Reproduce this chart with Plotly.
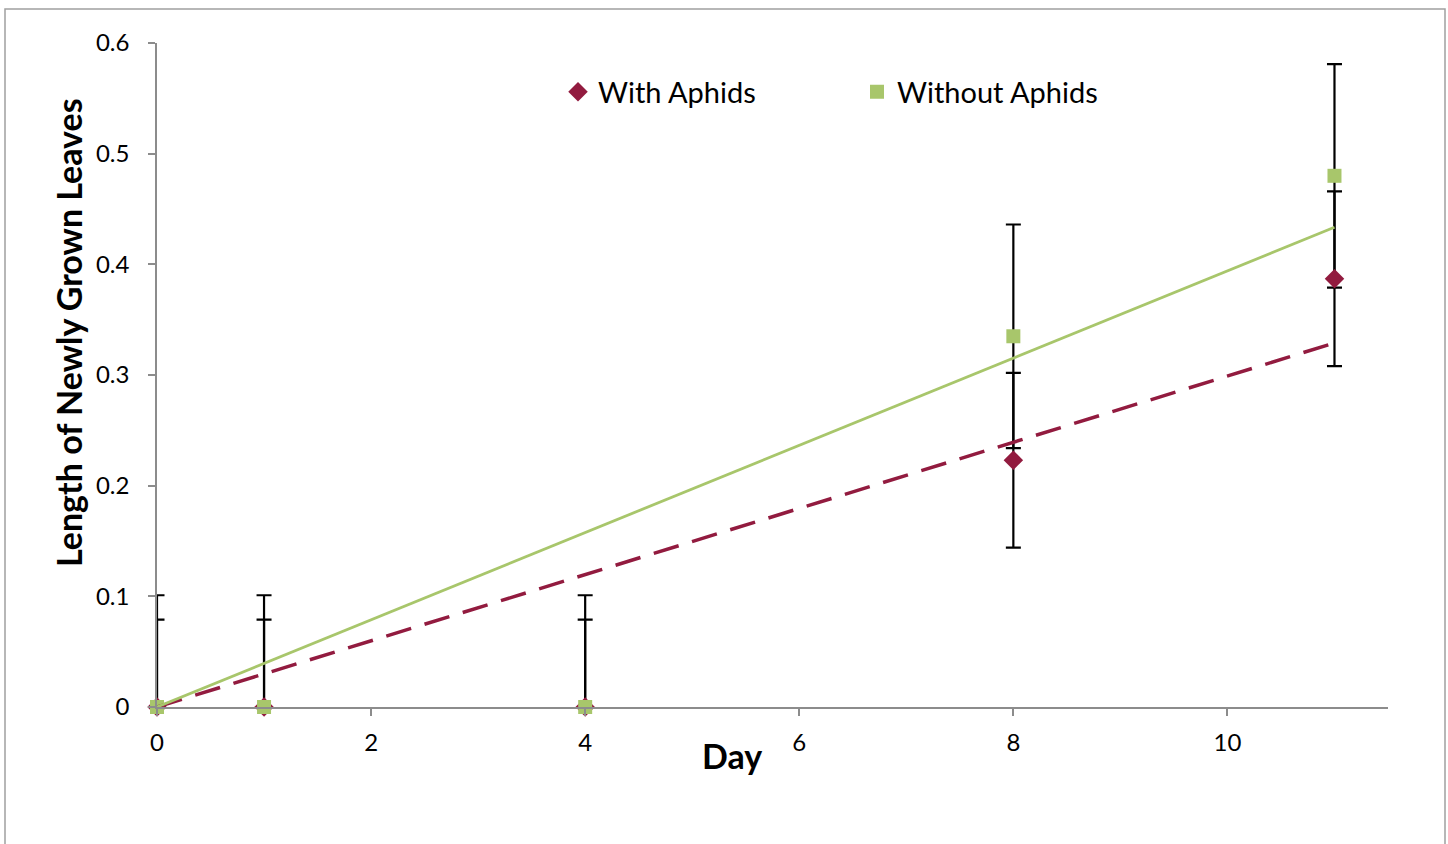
import numpy as np
import plotly.graph_objects as go

# ---- data ----
days = [0, 1, 4, 8, 11]
with_aphids = [0, 0, 0, 0.223, 0.387]
without_aphids = [0, 0, 0, 0.335, 0.48]
with_err = [0.079, 0.079, 0.079, 0.079, 0.079]
without_err = [0.101, 0.101, 0.101, 0.101, 0.101]
x_ticks = [0, 2, 4, 6, 8, 10]
y_ticks = [0, 0.1, 0.2, 0.3, 0.4, 0.5, 0.6]
series_names = ["With Aphids", "Without Aphids"]

RED = "#921B3F"
GREEN = "#A8C66B"
FONT = "Lato"

# Linear trendlines through the origin (least squares)
xd = np.array(days, dtype=float)
def trend(y):
    y = np.array(y, dtype=float)
    slope = (xd * y).sum() / (xd * xd).sum()
    xs = np.array([xd.min(), xd.max()])
    return xs, slope * xs

fig = go.Figure()

# error bars (clipped to plot area)
for ys, err in [(with_aphids, with_err), (without_aphids, without_err)]:
    fig.add_trace(go.Scatter(
        x=days, y=ys, mode="markers", marker=dict(size=1, opacity=0),
        error_y=dict(type="data", array=err, visible=True, color="black",
                     thickness=2.2, width=7.5),
        showlegend=False, hoverinfo="skip", cliponaxis=True))

# markers
fig.add_trace(go.Scatter(
    x=days, y=with_aphids, mode="markers", name=series_names[0],
    marker=dict(symbol="diamond", size=15, color=RED),
    cliponaxis=False, legend="legend"))
fig.add_trace(go.Scatter(
    x=days, y=without_aphids, mode="markers", name=series_names[1],
    marker=dict(symbol="square", size=14, color=GREEN),
    cliponaxis=False, legend="legend2"))

# trendlines
tx, ty = trend(with_aphids)
fig.add_trace(go.Scatter(x=tx, y=ty, mode="lines", showlegend=False,
                         line=dict(color=RED, width=3.5, dash="26px,14px"),
                         hoverinfo="skip"))
tx, ty = trend(without_aphids)
fig.add_trace(go.Scatter(x=tx, y=ty, mode="lines", showlegend=False,
                         line=dict(color=GREEN, width=2.8),
                         hoverinfo="skip"))

L, R, T, B = 157, 60, 43, 137
W, H = 1448, 844
pw, ph = W - L - R, H - T - B

def px_x(p):
    return (p - L) / pw

def px_y(p):
    return (H - B - p) / ph

axis_common = dict(showgrid=False, zeroline=False, showline=True,
                   linecolor="#8C8C8C", linewidth=1.5, ticks="outside",
                   ticklen=7, tickwidth=1.5, tickcolor="#8C8C8C",
                   tickfont=dict(family=FONT, size=24, color="black"))

fig.update_layout(
    width=W, height=H,
    margin=dict(l=L, r=R, t=T, b=B, autoexpand=False),
    paper_bgcolor="white", plot_bgcolor="white",
    font=dict(family=FONT, color="black"),
    xaxis=dict(range=[0, 11.5], tickvals=x_ticks, ticklabelstandoff=6,
               **axis_common),
    yaxis=dict(range=[0, 0.6], tickvals=y_ticks, ticklabelstandoff=14,
               **axis_common),
    legend=dict(x=px_x(558), y=px_y(92), xanchor="left", yanchor="middle",
                orientation="h", bgcolor="rgba(0,0,0,0)",
                font=dict(family=FONT, size=29, color="black")),
    legend2=dict(x=px_x(857), y=px_y(92), xanchor="left", yanchor="middle",
                 orientation="h", bgcolor="rgba(0,0,0,0)",
                 font=dict(family=FONT, size=29, color="black")),
    annotations=[
        dict(text="<b>Day</b>", xref="paper", yref="paper",
             x=px_x(732), y=px_y(755), xanchor="center", yanchor="middle",
             showarrow=False, font=dict(family=FONT, size=34, color="black")),
        dict(text="<b>Length of Newly Grown Leaves</b>", xref="paper",
             yref="paper", x=px_x(68), y=px_y(333), xanchor="center",
             yanchor="middle", textangle=-90, showarrow=False,
             font=dict(family=FONT, size=34, color="black")),
    ],
    shapes=[dict(type="rect", xref="paper", yref="paper",
                 x0=px_x(5), x1=px_x(1445), y0=px_y(855), y1=px_y(9),
                 line=dict(color="#A0A0A0", width=1.5),
                 fillcolor="rgba(0,0,0,0)", layer="below")],
)

fig.write_html("out.html",
               config={"displayModeBar": False},
               post_script="document.body.style.margin='0px';"
                           "document.body.style.overflow='hidden';")
